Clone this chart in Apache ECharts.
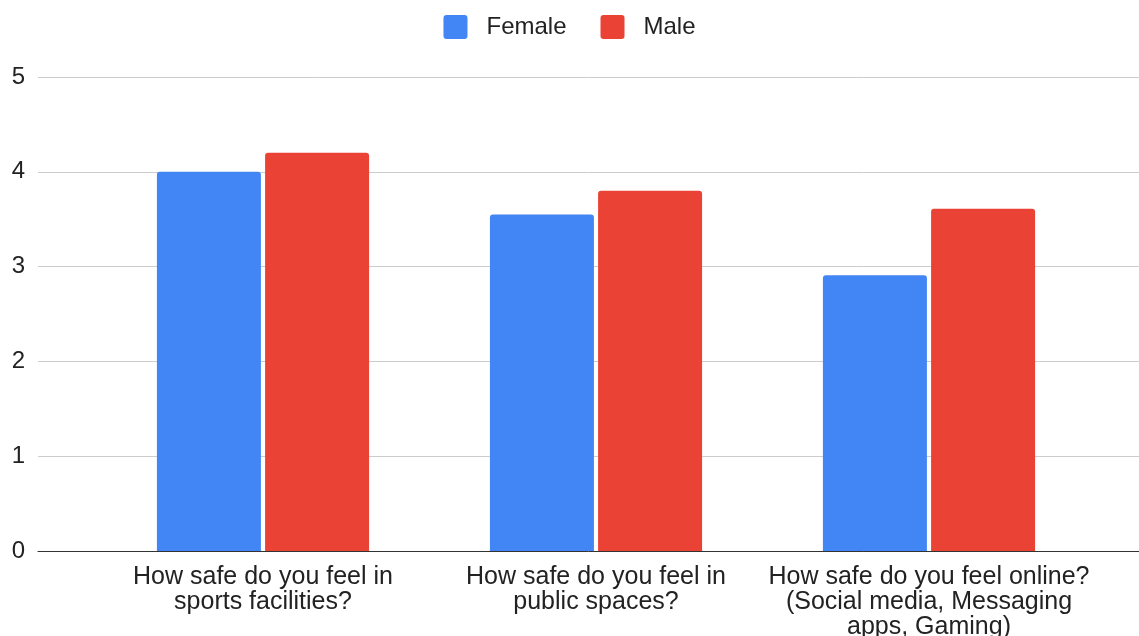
<!DOCTYPE html>
<html>
<head>
<meta charset="utf-8">
<script src="https://cdn.jsdelivr.net/npm/echarts@6/dist/echarts.min.js"></script>
<style>
  html, body { margin: 0; padding: 0; background: #fff; }
  #chart { width: 1139px; height: 636px; }
</style>
</head>
<body>
<div id="chart"></div>
<script>
// Survey questions on the x axis
const categories = [
  'How safe do you feel in\nsports facilities?',
  'How safe do you feel in\npublic spaces?',
  'How safe do you feel online?\n(Social media, Messaging\napps, Gaming)'
];
// Average safety rating by gender
const femaleValues = [4.0, 3.55, 2.91];
const maleValues = [4.2, 3.8, 3.61];
// Y axis scale
const yMin = 0;
const yMax = 5;
const yStep = 1;

const FONT = '"Liberation Sans", Arial, Helvetica, sans-serif';
// square legend swatch with slightly rounded corners
const SWATCH = 'path://M3,0 H21 Q24,0 24,3 V21 Q24,24 21,24 H3 Q0,24 0,21 V3 Q0,0 3,0 Z';
const chart = echarts.init(document.getElementById('chart'), null, { renderer: 'canvas' });

chart.setOption({
  animation: false,
  textStyle: { fontFamily: FONT },
  legend: {
    top: 10,
    left: 'center',
    itemWidth: 24,
    itemHeight: 24,
    itemGap: 34,
    icon: SWATCH,
    textStyle: { fontSize: 24, color: '#222', fontFamily: FONT, padding: [0, 0, 0, 14] },
    data: ['Female', 'Male']
  },
  grid: [
    // full-width grid carrying the value axis, gridlines and baseline
    { left: 38, right: 0, top: 77, bottom: 85, containLabel: false, outerBoundsMode: 'none' },
    // inner grid where the bars sit
    { left: 96.5, right: 43.5, top: 77, bottom: 85, containLabel: false, outerBoundsMode: 'none' }
  ],
  xAxis: [
    {
      gridIndex: 0,
      type: 'category',
      data: categories,
      axisLine: { show: true, lineStyle: { color: '#333', width: 1 } },
      axisTick: { show: false },
      axisLabel: { show: false },
      splitLine: { show: false }
    },
    {
      gridIndex: 1,
      type: 'category',
      data: categories,
      axisLine: { show: false },
      axisTick: { show: false },
      axisLabel: {
        fontSize: 25,
        lineHeight: 25,
        color: '#222',
        margin: 14,
        interval: 0,
        align: 'center'
      }
    }
  ],
  yAxis: [
    {
      gridIndex: 0,
      type: 'value',
      min: yMin,
      max: yMax,
      interval: yStep,
      axisLine: { show: false },
      axisTick: { show: false },
      axisLabel: { fontSize: 24, color: '#222', margin: 13 },
      splitLine: { show: true, lineStyle: { color: '#cccccc', width: 1 } }
    },
    {
      gridIndex: 1,
      type: 'value',
      min: yMin,
      max: yMax,
      interval: yStep,
      show: false,
      splitLine: { show: false }
    }
  ],
  series: [
    {
      name: 'Female',
      type: 'bar',
      xAxisIndex: 1,
      yAxisIndex: 1,
      data: femaleValues,
      barWidth: 104,
      barGap: '4%',
      itemStyle: { color: '#4285f4', borderRadius: [3, 3, 0, 0] }
    },
    {
      name: 'Male',
      type: 'bar',
      xAxisIndex: 1,
      yAxisIndex: 1,
      data: maleValues,
      barWidth: 104,
      barGap: '4%',
      itemStyle: { color: '#ea4335', borderRadius: [3, 3, 0, 0] }
    }
  ]
});
</script>
</body>
</html>
